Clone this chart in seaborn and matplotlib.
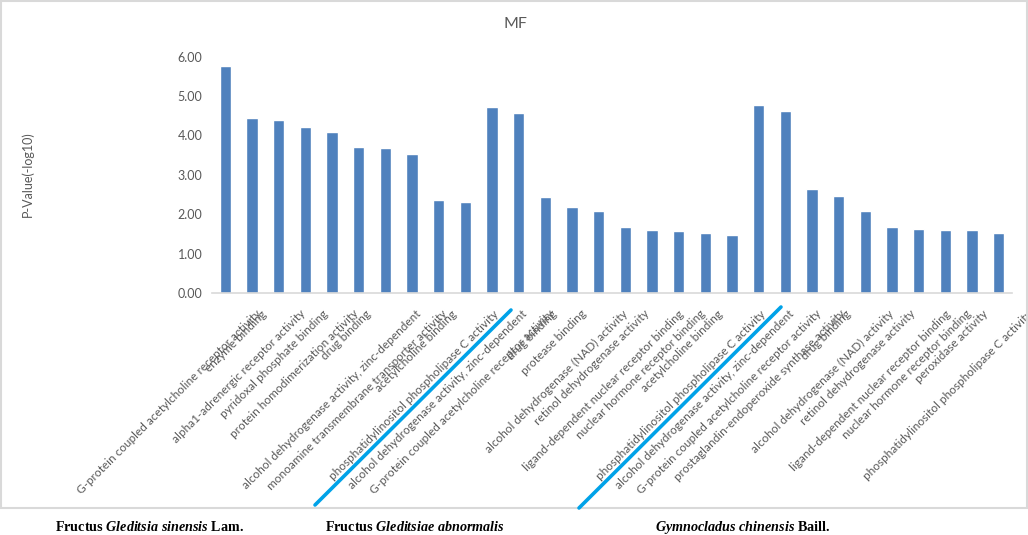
import numpy as np
import pandas as pd
import matplotlib
matplotlib.use("Agg")
import matplotlib.pyplot as plt
import seaborn as sns
from matplotlib.lines import Line2D
from matplotlib.patches import Rectangle
from matplotlib.transforms import ScaledTranslation
from matplotlib.textpath import TextPath
from matplotlib.font_manager import FontProperties

# ---------------- data ----------------
terms_g1 = [
    "G-protein coupled acetylcholine receptor activity",
    "enzyme binding",
    "alpha1-adrenergic receptor activity",
    "pyridoxal phosphate binding",
    "protein homodimerization activity",
    "drug binding",
    "alcohol dehydrogenase activity, zinc-dependent",
    "monoamine transmembrane transporter activity",
    "acetylcholine binding",
    "phosphatidylinositol phospholipase C activity",
]
values_g1 = [5.77, 4.45, 4.40, 4.20, 4.08, 3.71, 3.67, 3.53, 2.35, 2.31]

terms_g2 = [
    "alcohol dehydrogenase activity, zinc-dependent",
    "G-protein coupled acetylcholine receptor activity",
    "drug binding",
    "protease binding",
    "alcohol dehydrogenase (NAD) activity",
    "retinol dehydrogenase activity",
    "ligand-dependent nuclear receptor binding",
    "nuclear hormone receptor binding",
    "acetylcholine binding",
    "phosphatidylinositol phospholipase C activity",
]
values_g2 = [4.71, 4.57, 2.44, 2.19, 2.07, 1.67, 1.60, 1.57, 1.51, 1.47]

terms_g3 = [
    "alcohol dehydrogenase activity, zinc-dependent",
    "G-protein coupled acetylcholine receptor activity",
    "prostaglandin-endoperoxide synthase activity",
    "drug binding",
    "alcohol dehydrogenase (NAD) activity",
    "retinol dehydrogenase activity",
    "ligand-dependent nuclear receptor binding",
    "nuclear hormone receptor binding",
    "peroxidase activity",
    "phosphatidylinositol phospholipase C activity",
]
values_g3 = [4.76, 4.61, 2.65, 2.47, 2.08, 1.68, 1.62, 1.61, 1.61, 1.51]

yticks = [0, 1, 2, 3, 4, 5, 6]
title = "MF"
ylabel = "P-Value(-log10)"

terms = terms_g1 + terms_g2 + terms_g3
values = values_g1 + values_g2 + values_g3
df = pd.DataFrame({"pos": [str(i) for i in range(len(terms))],
                   "term": terms, "value": values})

# ---------------- style ----------------
sns.set_theme(style="white")
plt.rcParams["font.family"] = ["Lato", "DejaVu Sans"]
plt.rcParams["mathtext.fontset"] = "custom"
plt.rcParams["mathtext.rm"] = "Liberation Serif:bold"
plt.rcParams["mathtext.it"] = "Liberation Serif:italic:bold"
plt.rcParams["mathtext.bf"] = "Liberation Serif:bold"

GRAY = "#595959"
W, H = 1028, 535
fig = plt.figure(figsize=(W / 100, H / 100), dpi=100)
ax = fig.add_axes([212 / W, 1 - 293 / H, 800 / W, (293 - 56.5) / H])

sns.barplot(data=df, x="pos", y="value", color="#4f81bd", saturation=1,
            width=0.42, ax=ax, errorbar=None, order=df["pos"].tolist())

ax.set_ylim(0, 6)
ax.set_xlim(-0.5, len(terms) - 0.5)
ax.set_yticks(yticks)
ax.set_yticklabels([f"{v:.2f}" for v in yticks], fontsize=9, color=GRAY)
ax.tick_params(axis="y", length=0, pad=7)
ax.tick_params(axis="x", length=0, labelbottom=False)
ax.set_xlabel("")
ax.set_ylabel("")
for s in ["left", "top", "right"]:
    ax.spines[s].set_visible(False)
ax.spines["bottom"].set_color("#d9d9d9")
ax.spines["bottom"].set_linewidth(1.2)

# rotated category labels (Excel-like positioning)
fs = 8.5
fp = FontProperties(family="Lato", size=fs)
for i, t in enumerate(terms):
    wpx = TextPath((0, 0), t, size=fs, prop=fp).get_extents().width * 100 / 72
    hext = wpx / np.sqrt(2)
    dx = 0.18 * hext + 2
    tr = ax.get_xaxis_transform() + ScaledTranslation(dx / 100, -19 / 100, fig.dpi_scale_trans)
    ax.text(i, 0, t, transform=tr, rotation=45, rotation_mode="anchor",
            ha="right", va="center", fontsize=fs, color=GRAY, fontproperties=fp,
            clip_on=False)

# title and y label
fig.text(515 / W, 1 - 24 / H, title, ha="center", va="center", fontsize=11.5, color=GRAY)
fig.text(28 / W, 1 - 174 / H, ylabel, ha="center", va="center", rotation=90,
         fontsize=9, color=GRAY)

# chart frame
fig.patches.append(Rectangle((0.6 / W, 1 - 508 / H), (W - 1.6) / W, 507 / H,
                             transform=fig.transFigure, fill=False,
                             edgecolor="#d9d9d9", linewidth=1.5))

# group separator lines
for (x0, y0, x1, y1) in [(315, 505, 511, 310), (579, 508, 781, 307)]:
    fig.lines.append(Line2D([x0 / W, x1 / W], [1 - y0 / H, 1 - y1 / H],
                            transform=fig.transFigure, color="#00a2e8", linewidth=2.6))

# group names
group_labels = [
    (55, r"Fructus $Gleditsia\ sinensis$ Lam."),
    (325, r"Fructus $Gleditsiae\ abnormalis$"),
    (655, r"$Gymnocladus\ chinensis$ Baill."),
]
for x, s in group_labels:
    fig.text(x / W, 1 - 527 / H, s, ha="left", va="center", fontsize=10.2,
             family="Liberation Serif", weight="bold", color="black")

fig.savefig("out.png", dpi=100)
